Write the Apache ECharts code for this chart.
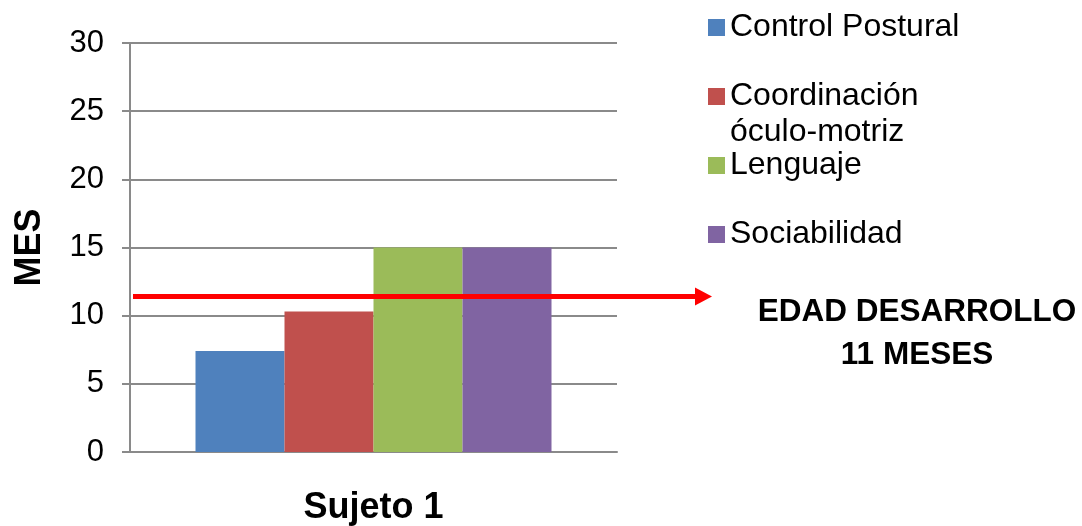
<!DOCTYPE html>
<html>
<head>
<meta charset="utf-8">
<script src="https://cdn.jsdelivr.net/npm/echarts@6/dist/echarts.min.js"></script>
<style>
  html, body { margin: 0; padding: 0; background: #ffffff; }
  #chart { width: 1082px; height: 526px; }
</style>
</head>
<body>
<div id="chart"></div>
<script>
// Developmental age by area, in months
const categories = ['Sujeto 1'];
const seriesNames = ['Control Postural', 'Coordinación\nóculo-motriz', 'Lenguaje', 'Sociabilidad'];
const controlPostural = [7.4];
const coordinacion = [10.3];
const lenguaje = [15];
const sociabilidad = [15];
const yTicks = [0, 5, 10, 15, 20, 25, 30];
// Level marked by the arrow and the note beside it
const arrowLevel = 11.4;
const noteText = 'EDAD DESARROLLO\n11 MESES';

const colors = ['#4F81BD', '#C0504D', '#9BBB59', '#8064A2'];
const seriesData = [controlPostural, coordinacion, lenguaje, sociabilidad];
const FONT = '"Liberation Sans", Arial, sans-serif';
const GRID_COLOR = '#8a8a8a';

const chart = echarts.init(document.getElementById('chart'), null, { renderer: 'canvas' });

// One legend block per series so each entry sits at its own row.
// A two-line name gets a blank leading line so the swatch lines up with its first line.
const legendTops = [27.5, 96.5, 165.5, 234.5];
const LH = 36;
const legends = seriesNames.map((name, i) => {
  const multi = name.indexOf('\n') >= 0;
  return {
    orient: 'vertical',
    left: 708,
    top: multi ? legendTops[i] - 1.5 * LH : legendTops[i] - LH / 2,
    itemWidth: 17,
    itemHeight: 17,
    selectedMode: false,
    icon: 'rect',
    padding: 0,
    formatter: n => (multi ? ' \n' + n : n),
    textStyle: {
      fontFamily: FONT,
      fontSize: 32,
      color: '#000000',
      lineHeight: LH
    },
    data: [{ name: name, itemStyle: { color: colors[i] } }]
  };
});

const option = {
  animation: false,
  backgroundColor: '#ffffff',
  color: colors,
  grid: { left: 130, right: 465, top: 43, bottom: 73, containLabel: false },
  legend: legends,
  xAxis: {
    type: 'category',
    data: categories,
    axisLine: { show: true, lineStyle: { color: GRID_COLOR, width: 2 } },
    axisTick: { show: false },
    axisLabel: {
      margin: 38,
      fontFamily: FONT,
      fontSize: 36,
      fontWeight: 'bold',
      color: '#000000'
    }
  },
  yAxis: {
    type: 'value',
    min: yTicks[0],
    max: yTicks[yTicks.length - 1],
    interval: yTicks[1] - yTicks[0],
    name: 'MES',
    nameLocation: 'middle',
    nameRotate: 90,
    nameGap: 82,
    nameTextStyle: { fontFamily: FONT, fontSize: 36, fontWeight: 'bold', color: '#000000' },
    axisLine: { show: true, lineStyle: { color: GRID_COLOR, width: 2 } },
    axisTick: { show: true, inside: false, length: 8, lineStyle: { color: GRID_COLOR, width: 2 } },
    axisLabel: {
      margin: 26,
      fontFamily: FONT,
      fontSize: 31,
      color: '#000000',
      formatter: v => (yTicks.indexOf(v) >= 0 ? String(v) : '')
    },
    splitLine: { show: true, lineStyle: { color: GRID_COLOR, width: 2 } }
  },
  series: seriesNames.map((name, i) => ({
    name: name,
    type: 'bar',
    data: seriesData[i],
    barWidth: 89,
    barGap: '0%',
    itemStyle: { color: colors[i] }
  }))
};

chart.setOption(option);

// Arrow pointing from the plot to the note, plus the note itself
const arrowY = chart.convertToPixel({ yAxisIndex: 0 }, arrowLevel);
const axisX = chart.getModel().getComponent('grid', 0).coordinateSystem.getRect().x;
const shaftStart = axisX + 3;
const shaftEnd = 695;
const tipX = 712;
chart.setOption({
  graphic: [
    {
      type: 'line',
      shape: { x1: shaftStart, y1: arrowY, x2: shaftEnd + 1, y2: arrowY },
      style: { stroke: '#ff0000', lineWidth: 5 },
      z: 100
    },
    {
      type: 'polygon',
      shape: { points: [[shaftEnd, arrowY - 9], [tipX, arrowY], [shaftEnd, arrowY + 9]] },
      style: { fill: '#ff0000' },
      z: 100
    },
    {
      type: 'text',
      x: 917,
      y: 334,
      style: {
        text: noteText,
        fontFamily: FONT,
        fontSize: 31.5,
        fontWeight: 'bold',
        fill: '#000000',
        lineHeight: 43,
        align: 'center',
        verticalAlign: 'middle'
      },
      z: 100
    }
  ]
});
</script>
</body>
</html>
